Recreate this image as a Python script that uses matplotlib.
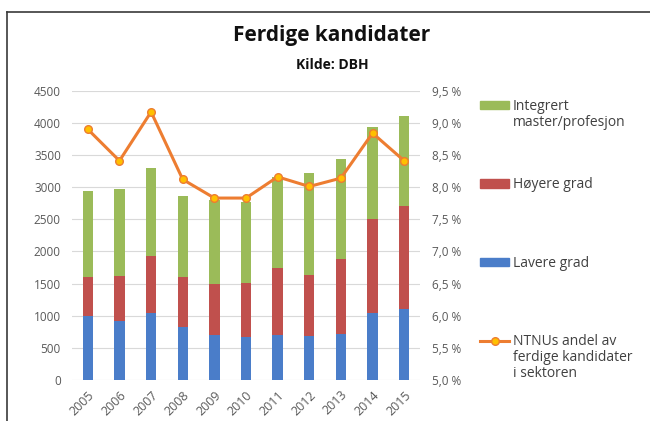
import numpy as np
import matplotlib
matplotlib.use("Agg")
import matplotlib.pyplot as plt
from matplotlib.lines import Line2D
from matplotlib.patches import Patch

plt.rcParams['font.family'] = ['Open Sans', 'DejaVu Sans']

# data
years = ['2005', '2006', '2007', '2008', '2009', '2010', '2011', '2012', '2013', '2014', '2015']
lavere = [1000, 923, 1042, 829, 695, 674, 695, 690, 721, 1042, 1109]
hoyere = [607, 700, 892, 768, 803, 829, 1052, 938, 1161, 1457, 1597]
integrert = [1338, 1342, 1368, 1270, 1302, 1271, 1415, 1597, 1550, 1431, 1405]
andel = [8.90, 8.41, 9.17, 8.12, 7.83, 7.83, 8.16, 8.01, 8.14, 8.84, 8.41]

c_blue = '#4A7DC9'
c_red = '#C0504D'
c_green = '#9BBB59'
c_orange = '#ED7D31'
c_text = '#595959'

fig = plt.figure(figsize=(6.5, 4.21), dpi=100)
ax = fig.add_axes([72 / 650, 1 - 380 / 421, 348 / 650, 289.3 / 421])

x = np.arange(len(years))
w = 0.33
lav = np.array(lavere)
hoy = np.array(hoyere)
ax.bar(x, lav, w, color=c_blue, zorder=2)
ax.bar(x, hoy, w, bottom=lav, color=c_red, zorder=2)
ax.bar(x, integrert, w, bottom=lav + hoy, color=c_green, zorder=2)

ax.set_xlim(-0.5, len(years) - 0.5)
ax.set_ylim(0, 4500)
ax.set_yticks(np.arange(0, 4501, 500))
ax.grid(axis='y', color='#D9D9D9', lw=0.8, zorder=0)
ax.set_axisbelow(True)
for s in ax.spines.values():
    s.set_visible(False)
ax.tick_params(length=0, labelsize=8.5, labelcolor=c_text)
ax.tick_params(axis='y', pad=8)
ax.set_xticks(x)
ax.set_xticklabels(years, rotation=45, ha='right', rotation_mode='anchor')
ax.tick_params(axis='x', pad=6, labelsize=9)

ax2 = ax.twinx()
ax2.plot(x, andel, color=c_orange, lw=2.2, marker='o', ms=5.5,
         mfc='#FFC000', mec=c_orange, mew=1.0, zorder=3)
ax2.set_ylim(5.0, 9.5)
ticks = np.arange(5.0, 9.51, 0.5)
ax2.set_yticks(ticks)
ax2.set_yticklabels([f"{t:.1f} %".replace('.', ',') for t in ticks])
for s in ax2.spines.values():
    s.set_visible(False)
ax2.tick_params(length=0, labelsize=8.5, labelcolor=c_text, pad=9)

# legend, one row per text line, blank rows as spacers
blank = Patch(facecolor='none', edgecolor='none')
handles = [Patch(color=c_green), blank, blank, blank, blank,
           Patch(color=c_red), blank, blank, blank, blank,
           Patch(color=c_blue), blank, blank, blank, blank,
           Line2D([], [], color=c_orange, lw=2.2, marker='o', ms=5.5,
                  mfc='#FFC000', mec=c_orange, mew=1.0),
           blank, blank]
labels = ['Integrert', 'master/profesjon', '', '', '',
          'Høyere grad', '', '', '', '',
          'Lavere grad', '', '', '', '',
          'NTNUs andel av', 'ferdige kandidater', 'i sektoren']
leg = fig.legend(handles, labels, loc='upper left',
                 bbox_to_anchor=(480 / 650, 1 - 99 / 421), frameon=False,
                 fontsize=10, labelspacing=0.05, handlelength=2.1,
                 handleheight=0.55, handletextpad=0.25, borderpad=0,
                 borderaxespad=0)
for t in leg.get_texts():
    t.set_color('#404040')

fig.text(332 / 650, 1 - 36 / 421, 'Ferdige kandidater', ha='center', va='center',
         fontsize=15, fontweight='bold', color='#111111')
fig.text(332 / 650, 1 - 65 / 421, 'Kilde: DBH', ha='center', va='center',
         fontsize=10, fontweight='bold', color='#111111')

# page border (top and left rule)
fig.add_artist(Line2D([6.5 / 650, 6.5 / 650], [0, 1 - 11.5 / 421],
                      transform=fig.transFigure, color='#3A3A3A', lw=1.2))
fig.add_artist(Line2D([6.5 / 650, 1], [1 - 11.5 / 421, 1 - 11.5 / 421],
                      transform=fig.transFigure, color='#3A3A3A', lw=1.2))

fig.savefig('out.png', dpi=100)
